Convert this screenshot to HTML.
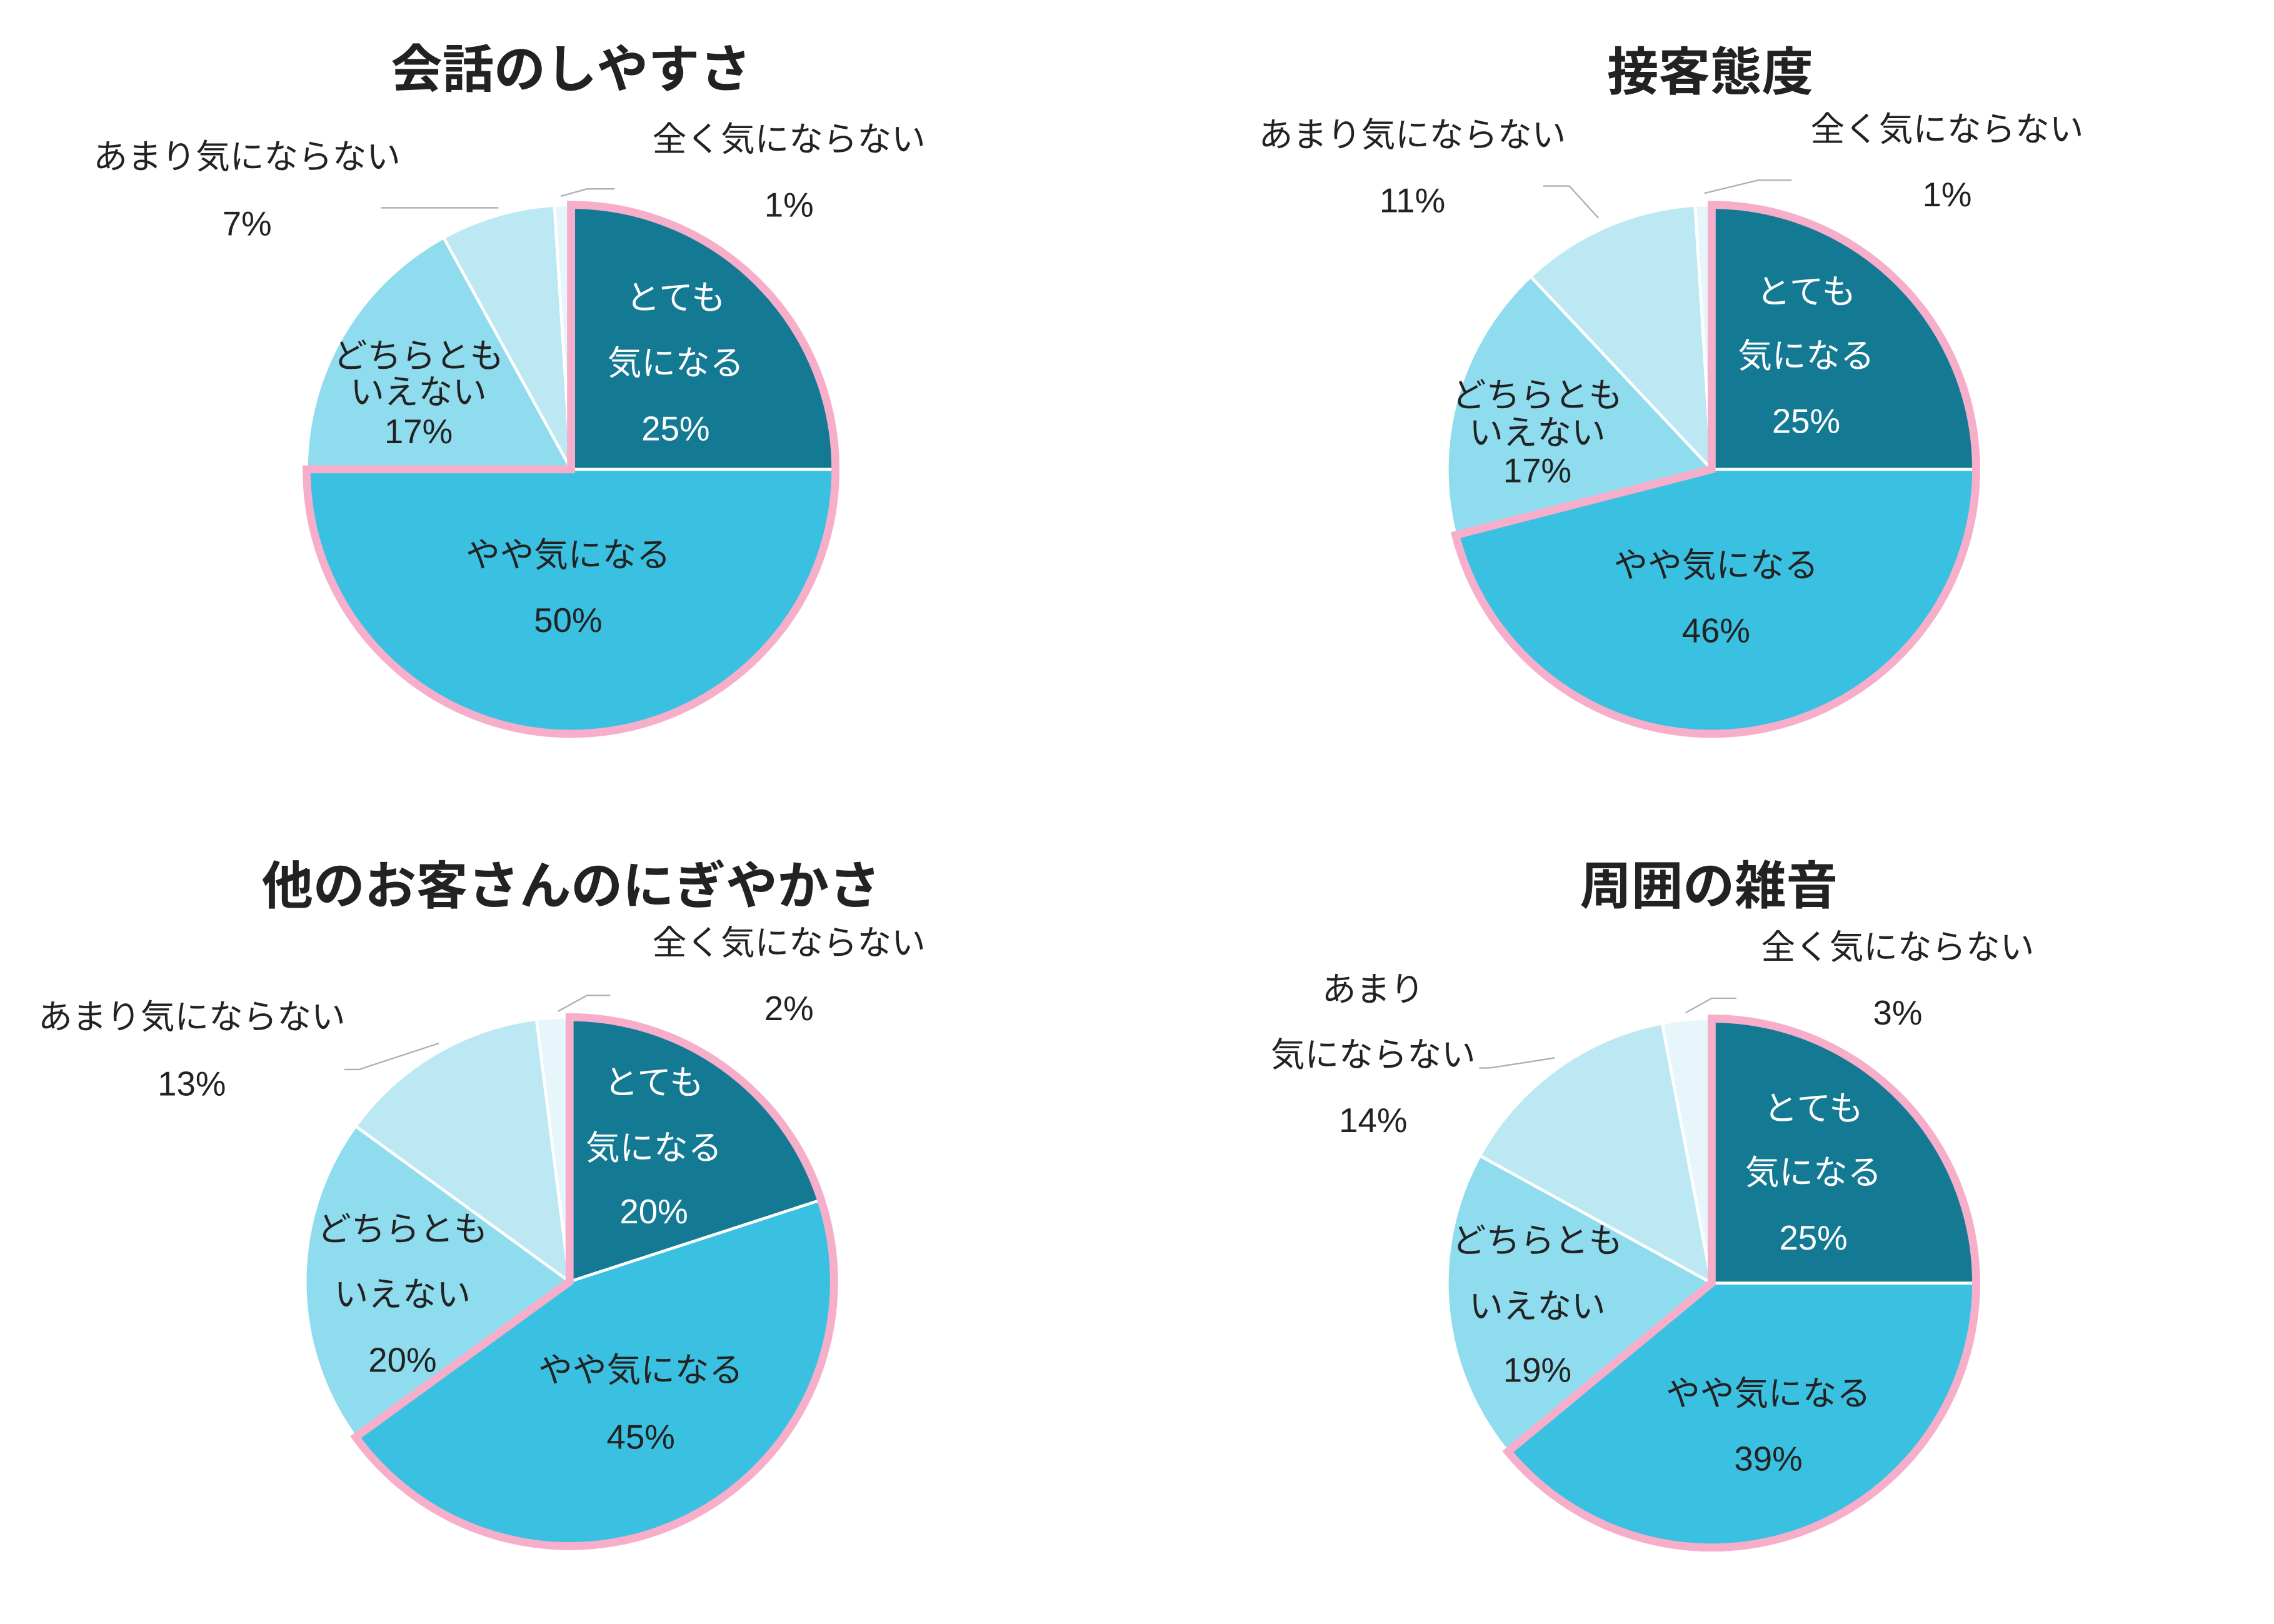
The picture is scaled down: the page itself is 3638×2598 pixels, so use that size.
<!DOCTYPE html>
<html><head><meta charset="utf-8"><style>
html,body{margin:0;padding:0;background:#fff}
svg{display:block}
text{font-family:"Liberation Sans","Noto Sans CJK JP",sans-serif;text-anchor:middle;dominant-baseline:central}
.t{font-size:35.5px;font-weight:bold;fill:#222}
.l{font-size:23.5px;fill:#222}
.w{font-size:23.5px;fill:#fff}
</style></head><body>
<svg id="s" width="3638" height="2598" viewBox="0 0 1565 1117.6" preserveAspectRatio="none" xmlns="http://www.w3.org/2000/svg">
<g id="g"></g>
<text class="t" x="393" y="48">会話のしやすさ</text>
<text class="w" x="465" y="205">とても</text><text class="w" x="465" y="250">気になる</text><text class="w" x="465" y="295">25%</text>
<text class="l" x="391" y="382">やや気になる</text><text class="l" x="391" y="427">50%</text>
<text class="l" x="288" y="245">どちらとも</text><text class="l" x="288" y="270">いえない</text><text class="l" x="288" y="297">17%</text>
<text class="l" x="170" y="108">あまり気にならない</text><text class="l" x="170" y="154">7%</text>
<text class="l" x="543" y="96">全く気にならない</text><text class="l" x="543" y="141">1%</text>
<polyline points="262,143 343,143" fill="none" stroke="#aab0b6" stroke-width="1"/>
<polyline points="386,135 404,130 423,130" fill="none" stroke="#aab0b6" stroke-width="1"/>
<text class="t" x="1177" y="50">接客態度</text>
<text class="w" x="1243" y="201">とても</text><text class="w" x="1243" y="245">気になる</text><text class="w" x="1243" y="290">25%</text>
<text class="l" x="1181" y="389">やや気になる</text><text class="l" x="1181" y="434">46%</text>
<text class="l" x="1058" y="272">どちらとも</text><text class="l" x="1058" y="298">いえない</text><text class="l" x="1058" y="324">17%</text>
<text class="l" x="972" y="93">あまり気にならない</text><text class="l" x="972" y="138">11%</text>
<text class="l" x="1340" y="89">全く気にならない</text><text class="l" x="1340" y="134">1%</text>
<polyline points="1062,128 1080,128 1100,150" fill="none" stroke="#aab0b6" stroke-width="1"/>
<polyline points="1173,133 1210,124 1233,124" fill="none" stroke="#aab0b6" stroke-width="1"/>
<text class="t" x="393" y="610">他のお客さんのにぎやかさ</text>
<text class="w" x="450" y="745">とても</text><text class="w" x="450" y="790">気になる</text><text class="w" x="450" y="834">20%</text>
<text class="l" x="441" y="943">やや気になる</text><text class="l" x="441" y="989">45%</text>
<text class="l" x="277" y="846">どちらとも</text><text class="l" x="277" y="891">いえない</text><text class="l" x="277" y="936">20%</text>
<text class="l" x="132" y="700">あまり気にならない</text><text class="l" x="132" y="746">13%</text>
<text class="l" x="543" y="649">全く気にならない</text><text class="l" x="543" y="694">2%</text>
<polyline points="237,736 247,736 302,718" fill="none" stroke="#aab0b6" stroke-width="1"/>
<polyline points="384,696 404,685 420,685" fill="none" stroke="#aab0b6" stroke-width="1"/>
<text class="t" x="1176" y="610">周囲の雑音</text>
<text class="w" x="1248" y="763">とても</text><text class="w" x="1248" y="807">気になる</text><text class="w" x="1248" y="852">25%</text>
<text class="l" x="1217" y="959">やや気になる</text><text class="l" x="1217" y="1004">39%</text>
<text class="l" x="1058" y="854">どちらとも</text><text class="l" x="1058" y="899">いえない</text><text class="l" x="1058" y="943">19%</text>
<text class="l" x="945" y="681">あまり</text><text class="l" x="945" y="726">気にならない</text><text class="l" x="945" y="771">14%</text>
<text class="l" x="1306" y="652">全く気にならない</text><text class="l" x="1306" y="697">3%</text>
<polyline points="1018,735 1025,735 1070,728" fill="none" stroke="#aab0b6" stroke-width="1"/>
<polyline points="1160,697 1178,687 1195,687" fill="none" stroke="#aab0b6" stroke-width="1"/>
</svg>
<script>
(function(){
var g=document.getElementById('g');
var cols=['#147A94','#3AC1E1','#8FDCEF','#BCE8F4','#E6F6FB'];
var pies=[[393,323,[25,50,17,7,1]],[1178,323,[25,46,17,11,1]],[392,882,[20,45,20,13,2]],[1178,883,[25,39,19,14,3]]];
var r=182,ns='http://www.w3.org/2000/svg';
function pt(cx,cy,f,rr){var a=f*2*Math.PI;return [cx+rr*Math.sin(a),cy-rr*Math.cos(a)];}
function arc(cx,cy,f0,f1,rr){var p0=pt(cx,cy,f0,rr),p1=pt(cx,cy,f1,rr);var lg=(f1-f0)>0.5?1:0;
return 'M'+cx+','+cy+'L'+p0[0].toFixed(2)+','+p0[1].toFixed(2)+'A'+rr+','+rr+' 0 '+lg+' 1 '+p1[0].toFixed(2)+','+p1[1].toFixed(2)+'Z';}
function add(d,fill,stroke,sw){var p=document.createElementNS(ns,'path');p.setAttribute('d',d);p.setAttribute('fill',fill);p.setAttribute('stroke',stroke);p.setAttribute('stroke-width',sw);p.setAttribute('stroke-linejoin','miter');g.appendChild(p);}
pies.forEach(function(P){var cx=P[0],cy=P[1],v=P[2],tot=v.reduce(function(a,b){return a+b},0),acc=0;
v.forEach(function(x,i){var f0=acc/tot,f1=(acc+x)/tot;acc+=x;add(arc(cx,cy,f0,f1,r),cols[i],'#fff',2);});
var ff=(v[0]+v[1])/tot;add(arc(cx,cy,0,ff,r),'none','#F7AECB',5.5);
});
})();
</script>
</body></html>
